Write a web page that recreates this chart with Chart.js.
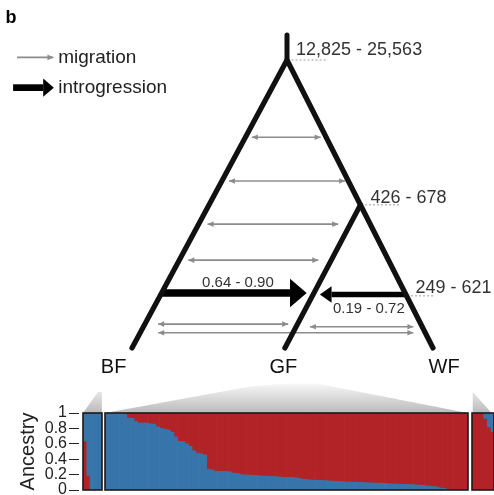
<!DOCTYPE html>
<html><head><meta charset="utf-8">
<script src="https://cdn.jsdelivr.net/npm/chart.js@4/dist/chart.umd.min.js"></script>
<style>
html,body{margin:0;padding:0;width:494px;height:495px;overflow:hidden;background:#fff;}
canvas{position:absolute;}
</style></head><body>
<canvas id="tree" width="494" height="495" style="left:0;top:0"></canvas>
<canvas id="bf" width="104" height="105" style="left:0;top:400px"></canvas>
<canvas id="gf" width="367" height="81" style="left:103px;top:411px"></canvas>
<canvas id="wf" width="26" height="81" style="left:470px;top:411px"></canvas>
<script>
// ---------------- DATA ----------------
// Tree: x = position across taxa (BF = 0 ... WF = 100), t = relative split time (root = 100)
const taxa = ['BF', 'GF', 'WF'];
const tipX = [0, 50.8, 100];
const nodeX = [51.5, 75.9];          // root, GF–WF ancestor
const nodeT = [100, 49.7];
const stemTopT = 108.7;
const splitLabels = ['12,825 - 25,563', '426 - 678', '249 - 621'];
// migration (double-headed, grey)
const migT    = [73.2, 58.0, 43.0, 30.5, 8.3, 7.4, 5.3];
const migFrom = [39.8, 32.2, 25.1, 18.7, 8.7, 59.1, 8.7];
const migTo   = [62.7, 70.8, 68.5, 61.9, 51.9, 93.5, 93.5];
// introgression (BF→GF, WF→GF)
const introLabels = ['0.64 - 0.90', '0.19 - 0.72'];
const introFrom = [10.0, 91.4];
const introTo   = [52.5, 66.3];
const introT    = [19.1, 18.6];
const introSplitT = 18.1;
// Ancestry proportions (red = one cluster, blue = the other)
const bfRed = [0.63, 0.18, 0, 0, 0, 0];
const gfBlue = [1,1,1,1,1,0.98,0.935,0.93,0.89,0.87,
 0.87,0.87,0.86,0.855,0.82,0.80,0.79,0.78,0.75,0.69,
 0.63,0.63,0.60,0.565,0.51,0.48,0.47,0.455,0.27,0.26,
 0.245,0.24,0.24,0.24,0.235,0.22,0.215,0.20,0.196,0.195,
 0.19,0.19,0.185,0.18,0.18,0.178,0.175,0.172,0.168,0.165,
 0.165,0.163,0.16,0.15,0.14,0.135,0.13,0.128,0.126,0.124,
 0.122,0.12,0.115,0.112,0.11,0.108,0.106,0.104,0.102,0.10,
 0.098,0.096,0.094,0.092,0.09,0.088,0.086,0.084,0.082,0.08,
 0.078,0.076,0.074,0.072,0.07,0.067,0.064,0.06,0.055,0.05,
 0.045,0.04,0.025,0.02,0.01,0,0,0,0,0];
const wfRed = [1, 1, 1, 0.92, 0.81, 0.75];
const ancestryTickStep = 0.2;

// ---------------- STYLE / LAYOUT ----------------
const FONT = "'Liberation Sans', Arial, Helvetica, sans-serif";
Chart.defaults.font.family = FONT;
const RED = '#B22327', BLUE = '#3774A9', GREY = '#8c8c8c', INK = '#111';
const legendLayout = { x0: -38.2, x1: -26.1, tMig: 100.9, xi0: -39.5, xi1: -29.5, tIntro: 90.4, textX: -24.5 };
const fans = [
  [[-16.3,-22.6],[-11.3,-15.3],[-10.0,-15.3],[-10.0,-22.6]],
  [[-9.0,-22.6],[39.2,-13.4],[50,-12.4],[61.5,-12.3],[111.6,-22.6]],
  [[113.0,-22.6],[113.2,-15.3],[119.5,-22.6]]
];

const pt = (x, y) => ({x, y});
const wfBranchX = t => tipX[2] + (nodeX[0] - tipX[2]) * t / nodeT[0];

const datasets = [];
// branches
datasets.push({data: [pt(tipX[0],0), pt(nodeX[0],nodeT[0]), pt(tipX[2],0)], borderColor: INK, borderWidth: 5.2, borderCapStyle:'round', borderJoinStyle:'round'});
datasets.push({data: [pt(nodeX[0],nodeT[0]), pt(nodeX[0],stemTopT)], borderColor: INK, borderWidth: 5, borderCapStyle:'round'});
datasets.push({data: [pt(nodeX[1],nodeT[1]), pt(tipX[1],0)], borderColor: INK, borderWidth: 5.2, borderCapStyle:'round'});
// dotted time guides
[[nodeX[0], nodeT[0], 13.5], [nodeX[1], nodeT[1], 13.5], [wfBranchX(introSplitT), introSplitT, 9.5]].forEach(([x, t, len]) => {
  datasets.push({data: [pt(x + 1.5, t), pt(x + len, t)], borderColor: '#9a9a9a', borderWidth: 1, borderDash: [2, 2]});
});
// migration arrows
migT.forEach((t, i) => datasets.push({data: [pt(migFrom[i], t), pt(migTo[i], t)], borderColor: GREY, borderWidth: 1.6,
  arrow: {start: true, end: true, len: 6, half: 2.8}}));
// introgression arrows
const introWidth = [7.7, 5.6], introHead = [[16.7, 14.3], [11.7, 8.3]];
introT.forEach((t, i) => datasets.push({data: [pt(introFrom[i], t), pt(introTo[i], t)], borderColor: '#000', borderWidth: introWidth[i],
  arrow: {end: true, base: true, len: introHead[i][0], half: introHead[i][1]}}));
// legend symbols
datasets.push({data: [pt(legendLayout.x0, legendLayout.tMig), pt(legendLayout.x1, legendLayout.tMig)], borderColor: GREY, borderWidth: 1.6,
  arrow: {end: true, len: 6, half: 2.8}});
datasets.push({data: [pt(legendLayout.xi0, legendLayout.tIntro), pt(legendLayout.xi1, legendLayout.tIntro)], borderColor: '#000', borderWidth: 6.7,
  arrow: {end: true, base: true, len: 10.7, half: 9.2}});
// zoom fans toward the ancestry panels
fans.forEach(poly => datasets.push({data: poly.map(p => pt(p[0], p[1])), borderWidth: 0, fill: 'shape',
  backgroundColor: (c) => {
    const ch = c.chart; if (!ch.chartArea) return '#ccc';
    const y = ch.scales.y; const g = ch.ctx.createLinearGradient(0, y.getPixelForValue(-11), 0, y.getPixelForValue(-22.6));
    g.addColorStop(0, '#ffffff'); g.addColorStop(1, '#bababa'); return g;
  }}));

const texts = [
  {text: 'b', x: -42.0, t: 112.8, font: 'bold 18px ' + FONT, color: '#000', align: 'left'},
  {text: 'migration', x: legendLayout.textX, t: 99.0, font: '19px ' + FONT, color: '#222', align: 'left'},
  {text: 'introgression', x: legendLayout.textX, t: 88.4, font: '19px ' + FONT, color: '#222', align: 'left'},
  {text: splitLabels[0], x: 54.5, t: 101.7, font: '18px ' + FONT, color: '#333', align: 'left'},
  {text: splitLabels[1], x: 79.2, t: 50.2, font: '18px ' + FONT, color: '#333', align: 'left'},
  {text: splitLabels[2], x: 94.2, t: 19.2, font: '18px ' + FONT, color: '#333', align: 'left'},
  {text: introLabels[0], x: 35.2, t: 21.3, font: '15px ' + FONT, color: '#333', align: 'center'},
  {text: introLabels[1], x: 78.7, t: 12.0, font: '15px ' + FONT, color: '#333', align: 'center'},
  {text: taxa[0], x: -6.1, t: -8.8, font: '20px ' + FONT, color: INK, align: 'center'},
  {text: taxa[1], x: 50.3, t: -8.8, font: '20px ' + FONT, color: INK, align: 'center'},
  {text: taxa[2], x: 103.7, t: -8.8, font: '20px ' + FONT, color: INK, align: 'center'}
];

const arrowPlugin = {
  id: 'arrowHeads',
  afterDatasetsDraw(chart) {
    const ctx = chart.ctx;
    chart.data.datasets.forEach((ds, i) => {
      if (!ds.arrow) return;
      const p = chart.getDatasetMeta(i).data;
      const a = p[0], b = p[p.length - 1], A = ds.arrow;
      const head = (from, to) => {
        const dx = to.x - from.x, dy = to.y - from.y, L = Math.hypot(dx, dy), ux = dx / L, uy = dy / L;
        const tip = A.base ? {x: to.x + ux * A.len, y: to.y + uy * A.len} : {x: to.x, y: to.y};
        const bx = tip.x - ux * A.len, by = tip.y - uy * A.len;
        ctx.beginPath(); ctx.moveTo(tip.x, tip.y);
        ctx.lineTo(bx - uy * A.half, by + ux * A.half); ctx.lineTo(bx + uy * A.half, by - ux * A.half);
        ctx.closePath(); ctx.fillStyle = ds.borderColor; ctx.fill();
      };
      ctx.save();
      if (A.end) head(a, b);
      if (A.start) head(b, a);
      ctx.restore();
    });
  }
};
const textPlugin = {
  id: 'treeText',
  afterDraw(chart) {
    const ctx = chart.ctx, sx = chart.scales.x, sy = chart.scales.y;
    ctx.save(); ctx.textBaseline = 'alphabetic';
    texts.forEach(o => { ctx.font = o.font; ctx.fillStyle = o.color; ctx.textAlign = o.align;
      ctx.fillText(o.text, sx.getPixelForValue(o.x), sy.getPixelForValue(o.t)); });
    ctx.restore();
  }
};

new Chart(document.getElementById('tree'), {
  type: 'line',
  data: {datasets},
  options: {
    responsive: false, animation: false, events: [],
    layout: {padding: 0},
    elements: {point: {radius: 0}, line: {tension: 0, fill: false}},
    plugins: {legend: {display: false}, tooltip: {enabled: false}},
    scales: {
      x: {type: 'linear', min: -43.85, max: 120.27, display: false},
      y: {type: 'linear', min: -51.04, max: 120.83, display: false}
    }
  },
  plugins: [arrowPlugin, textPlugin]
});

// ---------------- ANCESTRY PANELS ----------------
const framePlugin = {
  id: 'panelFrame',
  afterDatasetsDraw(chart) {
    const {ctx, chartArea: a} = chart;
    ctx.save(); ctx.strokeStyle = '#1a1a1a'; ctx.lineWidth = 1.6;
    ctx.strokeRect(a.left, a.top, a.right - a.left, a.bottom - a.top); ctx.restore();
  }
};
function panel(id, bottomVals, bottomColor, topColor, padding, yAxis) {
  return new Chart(document.getElementById(id), {
    type: 'bar',
    data: {labels: bottomVals.map((_, i) => i + 1), datasets: [
      {data: bottomVals, backgroundColor: bottomColor},
      {data: bottomVals.map(v => +(1 - v).toFixed(3)), backgroundColor: topColor}
    ]},
    options: {
      responsive: false, animation: false, events: [],
      layout: {padding},
      datasets: {bar: {barPercentage: 1, categoryPercentage: 1, borderWidth: 0}},
      plugins: {legend: {display: false}, tooltip: {enabled: false}},
      scales: {x: {display: false, stacked: true}, y: yAxis}
    },
    plugins: [framePlugin]
  });
}
panel('bf', bfRed, RED, BLUE, {left: 0, right: 2, top: 13, bottom: 15}, {
  stacked: true, min: 0, max: 1,
  afterFit(s) { s.width = 83; },
  ticks: {stepSize: ancestryTickStep, autoSkip: false, padding: 2, color: '#222', font: {size: 16},
    callback: v => String(Math.round(v * 10) / 10)},
  grid: {drawOnChartArea: false, tickLength: 14, tickBorderDash: [10, 10], tickColor: '#222', tickWidth: 1},
  border: {display: false},
  title: {display: true, text: 'Ancestry', color: '#222', font: {size: 20}, padding: {top: 16, bottom: 0}}
});
panel('gf', gfBlue, BLUE, RED, 2, {display: false, stacked: true, min: 0, max: 1});
panel('wf', wfRed, RED, BLUE, 2, {display: false, stacked: true, min: 0, max: 1});
</script>
</body></html>
